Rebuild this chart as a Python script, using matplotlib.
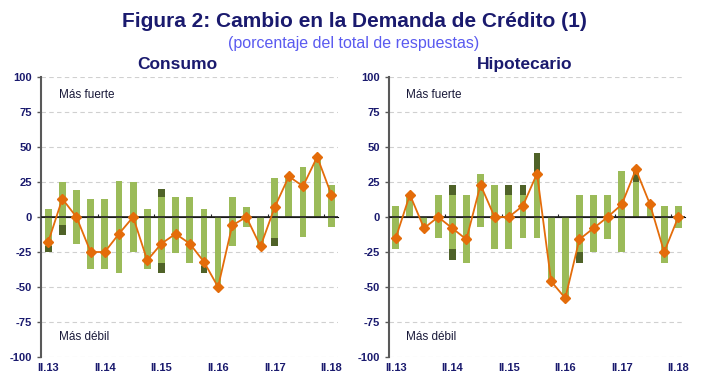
import matplotlib.pyplot as plt
import numpy as np

plt.rcParams['font.family'] = ['Liberation Sans', 'DejaVu Sans']
plt.rcParams['axes.unicode_minus'] = False

trimestres = ["II.13", "III.13", "IV.13", "I.14", "II.14", "III.14", "IV.14",
              "I.15", "II.15", "III.15", "IV.15", "I.16", "II.16", "III.16",
              "IV.16", "I.17", "II.17", "III.17", "IV.17", "I.18", "II.18"]

# Consumo: moderadamente / considerablemente mas fuerte y mas debil
cons_pos_mod = [6, 25, 19, 13, 13, 26, 25, 6, 14, 14, 14, 6, 0, 14, 7, 0, 28, 29, 36, 44, 23]
cons_pos_con = [0, 0, 0, 0, 0, 0, 0, 0, 6, 0, 0, 0, 0, 0, 0, 0, 0, 0, 0, 0, 0]
cons_neg_mod = [-21, -6, -19, -37, -37, -40, -25, -37, -33, -26, -33, -35, -50, -21, -7, -21, -15, 0, -14, 0, -7]
cons_neg_con = [-4, -7, 0, 0, 0, 0, 0, 0, -7, 0, 0, -5, 0, 0, 0, 0, -6, 0, 0, 0, 0]
cons_neto = [-18, 13, 0, -25, -25, -12, 0, -31, -19, -12, -19, -32, -50, -6, 0, -21, 7, 29, 22, 43, 16]

# Hipotecario
hip_pos_mod = [8, 16, 0, 16, 16, 16, 31, 23, 16, 16, 31, 0, 0, 16, 16, 16, 33, 25, 9, 8, 8]
hip_pos_con = [0, 0, 0, 0, 7, 0, 0, 0, 7, 7, 15, 0, 0, 0, 0, 0, 0, 8, 0, 0, 0]
hip_neg_mod = [-23, 0, -8, -15, -23, -33, -7, -23, -23, -15, -15, -46, -58, -25, -25, -16, -25, 0, 0, -33, -8]
hip_neg_con = [0, 0, 0, 0, -8, 0, 0, 0, 0, 0, 0, 0, 0, -8, 0, 0, 0, 0, 0, 0, 0]
hip_neto = [-15, 16, -8, 0, -8, -16, 23, 0, 0, 8, 31, -46, -58, -16, -8, 0, 9, 34, 9, -25, 0]

verde_claro = "#9BBB59"
verde_oscuro = "#4F6228"
naranja = "#E46C0A"
azul_osc = "#1A1A6E"

fig = plt.figure(figsize=(7.08, 3.91), dpi=100)
fig.text(0.5, 0.945, "Figura 2: Cambio en la Demanda de Crédito (1)", ha="center", va="center",
         fontsize=15, fontweight="bold", color=azul_osc)
fig.text(0.5, 0.888, "(porcentaje del total de respuestas)", ha="center", va="center",
         fontsize=11.5, color="#5A5AF0")


def panel(ax, titulo, pos_mod, pos_con, neg_mod, neg_con, neto):
    x = np.arange(len(trimestres))
    w = 0.48
    ax.bar(x, pos_mod, w, color=verde_claro, zorder=2)
    ax.bar(x, pos_con, w, bottom=pos_mod, color=verde_oscuro, zorder=2)
    ax.bar(x, neg_mod, w, color=verde_claro, zorder=2)
    ax.bar(x, neg_con, w, bottom=neg_mod, color=verde_oscuro, zorder=2)
    ax.axhline(0, color="#202020", lw=1.2, zorder=3)
    ax.plot(x, neto, color=naranja, lw=1.3, marker="D", ms=5.5, zorder=4)

    ax.set_xlim(-0.5, 20.45)
    ax.set_ylim(-100, 100)
    ax.set_yticks(np.arange(-100, 101, 25))
    for v in [-100, -75, -50, -25, 25, 50, 75, 100]:
        ax.axhline(v, color="#D0D0D0", lw=0.8, ls=(0, (4, 3)), zorder=1)

    ax.set_xticks(x[::4])
    ax.set_xticklabels(trimestres[::4])
    ax.tick_params(axis="x", length=0, pad=4, labelsize=8, labelcolor=azul_osc)
    ax.tick_params(axis="y", length=3, width=1, color="#595959", labelsize=8, labelcolor=azul_osc)
    for lab in ax.get_xticklabels() + ax.get_yticklabels():
        lab.set_fontweight("bold")

    for s in ["top", "right", "bottom"]:
        ax.spines[s].set_visible(False)
    ax.spines["left"].set_color("#595959")
    ax.spines["left"].set_linewidth(1.5)

    sec = ax.secondary_xaxis(0.5)
    sec.set_xticks(x[3::4] + 0.5)
    sec.set_xticklabels([])
    sec.tick_params(length=2.5, color="#202020")
    sec.spines["bottom"].set_visible(False)

    ax.text(0.06, 0.935, "Más fuerte", transform=ax.transAxes, fontsize=8.5, color="#1a1a3a", va="center")
    ax.text(0.06, 0.07, "Más débil", transform=ax.transAxes, fontsize=8.5, color="#1a1a3a", va="center")
    ax.set_title(titulo, fontsize=12.5, fontweight="bold", color=azul_osc, pad=6, x=0.46)


ax1 = fig.add_axes([0.058, 0.087, 0.419, 0.716])
ax2 = fig.add_axes([0.549, 0.087, 0.418, 0.716])
panel(ax1, "Consumo", cons_pos_mod, cons_pos_con, cons_neg_mod, cons_neg_con, cons_neto)
panel(ax2, "Hipotecario", hip_pos_mod, hip_pos_con, hip_neg_mod, hip_neg_con, hip_neto)

fig.savefig("out.png", dpi=100)
